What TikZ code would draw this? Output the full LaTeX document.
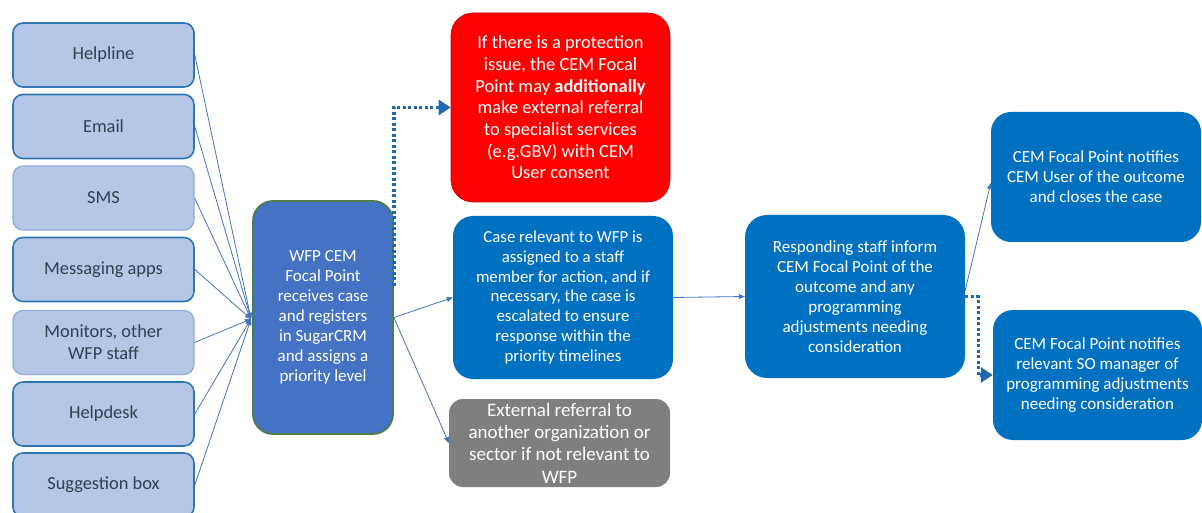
\documentclass[tikz,border=0pt]{standalone}
\usepackage{fontspec}
\setmainfont{Carlito}
\usetikzlibrary{arrows.meta,positioning}
\definecolor{srcfill}{HTML}{B4C7E7}
\definecolor{srcdraw}{HTML}{2E75B6}
\definecolor{srclight}{HTML}{8FAADC}
\definecolor{srctext}{HTML}{333F50}
\definecolor{wfpfill}{HTML}{4472C4}
\definecolor{wfpdraw}{HTML}{4F7B4A}
\definecolor{bluebox}{HTML}{0070C0}
\definecolor{redbox}{HTML}{FF0000}
\definecolor{graybox}{HTML}{7F7F7F}
\definecolor{linecol}{HTML}{4472C4}
\definecolor{dotcol}{HTML}{1F6AAE}
\tikzset{
  src/.style={draw=srcdraw, line width=1.6pt, fill=srcfill, rounded corners=10pt,
    minimum width=181pt, minimum height=64pt, text=srctext, align=center,
    font=\fontsize{18.4}{22}\selectfont, inner sep=0pt},
  srcl/.style={src, draw=srclight, line width=1.2pt},
  boxbase/.style={rounded corners=20pt, text=white, align=center, inner sep=0pt},
  conn/.style={draw=linecol, line width=0.8pt, -{Triangle[width=5pt,length=6pt]}},
  dotarrow/.style={draw=dotcol, line width=3.4pt, dash pattern=on 3pt off 2.5pt,
    -{Triangle[width=15pt,length=12pt]}}
}
\begin{document}
\begin{tikzpicture}[x=1pt,y=-1pt]
\useasboundingbox (0,0) rectangle (1202,513);
% source boxes
\node[src]  (help)  at (103.5,55)    {Helpline};
\node[src]  (email) at (103.5,126.5) {Email};
\node[srcl] (sms)   at (103.5,198)   {SMS};
\node[src]  (msg)   at (103.5,269.5) {Messaging apps};
\node[srcl] (mon)   at (103.5,342.5) {Monitors, other\\WFP staff};
\node[src]  (hdesk) at (103.5,414)   {Helpdesk};
\node[src]  (sugg)  at (103.5,485)   {Suggestion box};
% focal point
\node[boxbase, fill=wfpfill, draw=wfpdraw, line width=1.8pt, minimum width=140pt,
      minimum height=233pt, font=\fontsize{17}{20}\selectfont] (wfp) at (323,317.5)
  {WFP CEM\\Focal Point\\receives case\\and registers\\in SugarCRM\\and assigns a\\priority level};
\coordinate (conv) at (251,319);
% red box
\node[boxbase, fill=redbox, draw=red!80!black, line width=0.6pt, rounded corners=22pt,
      minimum width=219pt, minimum height=189pt, font=\fontsize{18.5}{21.7}\selectfont] (red) at (560.5,107.5)
  {If there is a protection\\issue, the CEM Focal\\Point may \textbf{additionally}\\make external referral\\to specialist services\\(e.g.GBV) with CEM\\User consent};
% middle blue
\node[boxbase, fill=bluebox, minimum width=220pt, minimum height=163pt,
      font=\fontsize{16.8}{19.7}\selectfont] (mid) at (563,297.5)
  {Case relevant to WFP is\\assigned to a staff\\member for action, and if\\necessary, the case is\\escalated to ensure\\response within the\\priority timelines};
% gray
\node[boxbase, fill=graybox, rounded corners=14pt, minimum width=221pt, minimum height=88pt,
      font=\fontsize{19}{22.3}\selectfont] (gray) at (559.5,443)
  {External referral to\\another organization or\\sector if not relevant to\\WFP};
% responding
\node[boxbase, fill=bluebox, rounded corners=22pt, minimum width=220pt, minimum height=163pt,
      font=\fontsize{17}{20}\selectfont] (resp) at (855,296.5)
  {Responding staff inform\\CEM Focal Point of the\\outcome and any\\programming\\adjustments needing\\consideration};
% right boxes
\node[boxbase, fill=bluebox, minimum width=210pt, minimum height=130pt,
      font=\fontsize{17}{20}\selectfont] (close) at (1096,177)
  {CEM Focal Point notifies\\CEM User of the outcome\\and closes the case};
\node[boxbase, fill=bluebox, minimum width=209pt, minimum height=130pt,
      font=\fontsize{17}{20}\selectfont] (somgr) at (1097.5,375)
  {CEM Focal Point notifies\\relevant SO manager of\\programming adjustments\\needing consideration};
% connectors from sources
\foreach \s in {help,email,sms,msg,mon,hdesk,sugg}{
  \draw[conn] (\s.east) -- (conv);
}
\draw[conn] (wfp.east) -- (mid.west);
\draw[conn] (wfp.east) -- (gray.west);
\draw[dotarrow] ([yshift=32pt]wfp.east) |- (red.west);
\draw[conn] (mid.east) -- (resp.west);
\draw[conn] ([yshift=6pt]resp.east) -- ([yshift=-6pt]close.west);
\draw[dotarrow] (resp.east) -- ++(13,0) |- (somgr.west);
\end{tikzpicture}
\end{document}
